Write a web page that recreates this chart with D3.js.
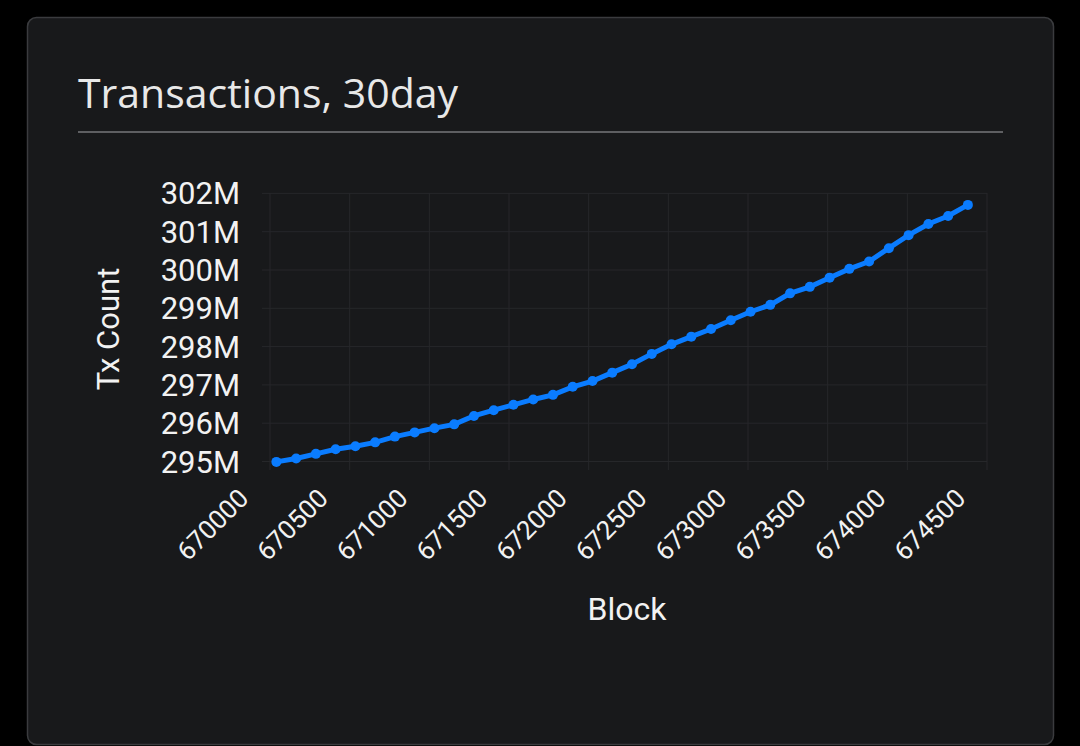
<!DOCTYPE html>
<html><head><meta charset="utf-8">
<script src="https://cdn.jsdelivr.net/npm/d3@7"></script>
<style>body{margin:0;background:#000;}</style>
</head><body>
<script>
var blocks = [];
for (var i = 0; i < 36; i++) blocks.push(670040 + i * 124);
var txCount = [294.99,295.08,295.20,295.32,295.40,295.50,295.65,295.76,295.87,295.97,
  296.19,296.34,296.48,296.62,296.74,296.95,297.10,297.32,297.54,297.81,
  298.06,298.26,298.46,298.69,298.91,299.09,299.39,299.56,299.80,300.03,
  300.22,300.57,300.91,301.20,301.41,301.70]
var xTicks = [670000,670500,671000,671500,672000,672500,673000,673500,674000,674500]
var yTicks = [295,296,297,298,299,300,301,302]

var svg = d3.select("body").append("svg").attr("width", 1080).attr("height", 746)

svg.append("rect").attr("x", 27.5).attr("y", 17.5).attr("width", 1026).attr("height", 727)
  .attr("rx", 9).style("fill", "#18191b").style("stroke", "#3a3b3e").style("stroke-width", 1.5)

svg.append("text").attr("x", 78).attr("y", 108).text("Transactions, 30day")
  .style("font-size", "41px").attr("font-family", "'Open Sans', sans-serif").attr("fill", "#e8e8e8")
svg.append("line").attr("x1", 78).attr("x2", 1003).attr("y1", 132).attr("y2", 132)
  .style("stroke", "#5e5f62").style("stroke-width", 2)

var x = d3.scaleLinear().domain([670000, 674500]).range([270, 987])
var y = d3.scaleLinear().domain([295, 302]).range([461.5, 193.4])

// grid
svg.append("g").selectAll("line").data(xTicks).join("line")
  .attr("x1", d => x(d)).attr("x2", d => x(d)).attr("y1", 193).attr("y2", 470)
  .style("stroke", "#26272a")
svg.append("g").selectAll("line").data(yTicks).join("line")
  .attr("x1", 262).attr("x2", 987).attr("y1", d => y(d)).attr("y2", d => y(d))
  .style("stroke", "#26272a")

svg.append("g").selectAll("text").data(yTicks).join("text")
  .attr("x", 240).attr("y", d => y(d) + 11).attr("text-anchor", "end")
  .text(d => d + "M").style("font-size", "31px").attr("font-family", "Roboto, sans-serif").attr("fill", "#f2f2f2")

svg.append("g").selectAll("text").data(xTicks).join("text")
  .attr("text-anchor", "end")
  .attr("transform", d => "translate(" + (x(d) - 20) + ",500) rotate(-45)")
  .text(d => d).style("font-size", "26px").attr("font-family", "Roboto, sans-serif").attr("fill", "#f2f2f2")

svg.append("text").attr("transform", "translate(119,329) rotate(-90)").attr("text-anchor", "middle")
  .text("Tx Count").style("font-size", "31px").attr("font-family", "Roboto, sans-serif").attr("fill", "#f2f2f2")
svg.append("text").attr("x", 627).attr("y", 620).attr("text-anchor", "middle")
  .text("Block").style("font-size", "32px").attr("font-family", "Roboto, sans-serif").attr("fill", "#f2f2f2")

var line = d3.line().x((d, i) => x(blocks[i])).y(d => y(d))
svg.append("path").datum(txCount).attr("d", line)
  .style("fill", "none").style("stroke", "#0a7cff").style("stroke-width", 5)
svg.append("g").selectAll("circle").data(txCount).join("circle")
  .attr("cx", (d, i) => x(blocks[i])).attr("cy", d => y(d)).attr("r", 5)
  .style("fill", "#0a7cff")
</script>
</body></html>
